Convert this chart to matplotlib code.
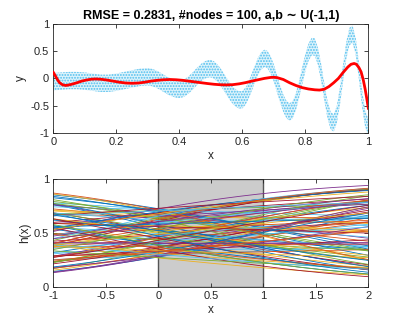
import numpy as np
import matplotlib.pyplot as plt
from matplotlib.patches import Rectangle

plt.rcParams['font.family'] = ['Liberation Sans', 'DejaVu Sans']
plt.rcParams['hatch.linewidth'] = 0.9

# --- top panel: noisy target (band of dots) and the network fit ---
band_x = np.concatenate([np.arange(0, 0.276, 0.025), np.arange(0.30, 1.001, 0.01)])
band_center = [
    -0.06, -0.05, -0.04, -0.04, -0.05, -0.07, -0.09, -0.09, -0.07, -0.04, -0.01, 0.02,
    0.03, 0.021, 0.002, -0.023, -0.055, -0.090, -0.125, -0.155, -0.179, -0.195,
    -0.20, -0.19, -0.162, -0.118, -0.061, -0.001, 0.058, 0.112, 0.152, 0.175,
    0.18, 0.155, 0.105, 0.032, -0.055, -0.148, -0.235, -0.313, -0.367, -0.396,
    -0.392, -0.330, -0.215, -0.069, 0.085, 0.226, 0.324, 0.369, 0.345, 0.246,
    0.098, -0.095, -0.288, -0.457, -0.573, -0.619, -0.575, -0.431, -0.211, 0.042,
    0.289, 0.481, 0.586, 0.578, 0.41, 0.114, -0.240, -0.562, -0.773, -0.825,
    -0.664, -0.320, 0.108, 0.515, 0.772, 0.816, 0.588, 0.147, -0.364, -0.749,
    -0.90,
]
noise_halfwidth = 0.16

fit_x = [0.0, 0.005, 0.01, 0.015, 0.02, 0.03, 0.04, 0.05, 0.06, 0.075,
         0.09, 0.105, 0.12, 0.135, 0.15, 0.17, 0.19, 0.21, 0.23, 0.25,
         0.27, 0.29, 0.31, 0.33, 0.35, 0.37, 0.39, 0.41, 0.43, 0.45,
         0.47, 0.49, 0.51, 0.53, 0.55, 0.57, 0.59, 0.61, 0.63, 0.65,
         0.67, 0.69, 0.70, 0.71, 0.73, 0.75, 0.77, 0.79, 0.81, 0.83,
         0.845, 0.86, 0.875, 0.89, 0.905, 0.92, 0.935, 0.945, 0.955, 0.962,
         0.97, 0.977, 0.984, 0.99, 0.995, 1.0]
fit_y = [0.11, 0.06, 0.01, -0.04, -0.08, -0.12, -0.13, -0.12, -0.105, -0.08,
         -0.05, -0.03, -0.015, -0.01, -0.015, -0.03, -0.05, -0.07, -0.085, -0.09,
         -0.085, -0.07, -0.05, -0.035, -0.025, -0.02, -0.025, -0.035, -0.05, -0.065,
         -0.08, -0.095, -0.108, -0.117, -0.12, -0.115, -0.10, -0.078, -0.05, -0.025,
         0.0, 0.018, 0.02, 0.015, -0.02, -0.08, -0.13, -0.17, -0.195, -0.21,
         -0.215, -0.20, -0.15, -0.08, 0.0, 0.11, 0.21, 0.26, 0.275, 0.26,
         0.20, 0.12, -0.03, -0.20, -0.37, -0.55]

title_text = 'RMSE = 0.2831, #nodes = 100, a,b \u223c U(-1,1)'

# --- bottom panel: hidden-node sigmoids h(x) = 1/(1+exp(-(a*x+b))) ---
a_vals = [0.63, -0.42, 0.91, -0.87, 0.15, 0.38, -0.71, 0.82, -0.05, -0.56,
          0.47, 0.99, -0.33, 0.24, -0.94, 0.71, -0.18, 0.56, -0.62, 0.07,
          0.88, -0.79, 0.31, -0.27, 0.95, -0.49, 0.12, 0.67, -0.84, 0.43,
          -0.11, 0.77, -0.66, 0.19, 0.93, -0.38, 0.52, -0.97, 0.02, 0.84,
          -0.24, 0.36, -0.75, 0.61, -0.53, 0.28, 0.97, -0.14, 0.73, -0.89,
          0.09, 0.49, -0.45, 0.86, -0.31, 0.22, -0.68, 0.79, -0.08, 0.58,
          -0.92, 0.34, 0.69, -0.59, 0.17, -0.36, 0.90, -0.21, 0.45, -0.81,
          0.65, 0.04, -0.47, 0.96, -0.64, 0.27, -0.12, 0.75, -0.99, 0.41,
          0.54, -0.29, 0.85, -0.73, 0.11, -0.51, 0.62, -0.02, 0.80, -0.39,
          0.33, -0.86, 0.92, -0.16, 0.50, -0.77, 0.21, 0.70, -0.60, 0.39]
b_vals = [-0.12, 0.54, -0.77, 0.31, 0.89, -0.43, 0.08, -0.95, 0.66, -0.29,
          0.41, -0.58, 0.93, -0.06, 0.22, -0.84, 0.72, -0.35, 0.15, -0.67,
          0.49, 0.97, -0.21, 0.60, -0.91, 0.03, 0.37, -0.52, 0.81, -0.74,
          0.26, -0.14, 0.68, -0.88, 0.44, 0.11, -0.63, 0.85, -0.39, 0.57,
          -0.02, 0.76, -0.47, 0.19, -0.99, 0.63, -0.26, 0.92, -0.56, 0.33,
          -0.81, 0.05, 0.71, -0.33, 0.47, -0.69, 0.88, -0.17, 0.28, -0.92,
          0.52, -0.09, 0.79, -0.44, 0.14, -0.78, 0.96, -0.24, 0.38, -0.61,
          0.83, -0.49, 0.07, -0.86, 0.59, -0.31, 0.24, -0.72, 0.91, -0.04,
          0.43, -0.97, 0.65, -0.19, 0.34, -0.55, 0.75, -0.37, 0.17, -0.83,
          0.99, -0.11, 0.53, -0.66, 0.29, -0.45, 0.87, -0.27, 0.09, -0.70]

matlab_colors = ['#0072BD', '#D95319', '#EDB120', '#7E2F8E',
                 '#77AC30', '#4DBEEE', '#A2142F']


def matlab_look(ax):
    ax.tick_params(direction='in', top=True, right=True, length=3,
                   width=0.6, labelsize=8, colors='#262626', pad=3)
    for s in ax.spines.values():
        s.set_color('#262626')
        s.set_linewidth(0.6)


fig = plt.figure(figsize=(4.07, 3.26), dpi=100)
ax1 = fig.add_axes([0.131, 0.593, 0.774, 0.333])
ax2 = fig.add_axes([0.131, 0.119, 0.774, 0.332])

lo = np.array(band_center) - noise_halfwidth
hi = np.array(band_center) + noise_halfwidth
ax1.fill_between(band_x, lo, hi, facecolor='#4DBEEE', alpha=0.18, linewidth=0)
ax1.fill_between(band_x, lo, hi, facecolor='none', edgecolor='#4DBEEE',
                 hatch='......', linewidth=0)
ax1.plot(fit_x, fit_y, color='red', lw=2, zorder=3)
ax1.set_xlim(0, 1)
ax1.set_ylim(-1, 1)
ax1.set_xticks([0, 0.2, 0.4, 0.6, 0.8, 1])
ax1.set_xticklabels(['0', '0.2', '0.4', '0.6', '0.8', '1'])
ax1.set_yticks([-1, -0.5, 0, 0.5, 1])
ax1.set_yticklabels(['-1', '-0.5', '0', '0.5', '1'])
ax1.set_xlabel('x', fontsize=8.5, color='#262626', labelpad=2)
ax1.set_ylabel('y', fontsize=8.5, color='#262626', labelpad=2)
ax1.set_title(title_text, fontsize=9, fontweight='bold', pad=4)
matlab_look(ax1)

ax2.add_patch(Rectangle((0, 0), 1, 1, facecolor='#CCCCCC',
                        edgecolor='#555555', lw=1.0, zorder=0.5))
xs = np.linspace(-1, 2, 200)
for i, (a, b) in enumerate(zip(a_vals, b_vals)):
    h = 1 / (1 + np.exp(-(a * xs + b)))
    ax2.plot(xs, h, color=matlab_colors[i % 7], lw=0.6)
ax2.set_xlim(-1, 2)
ax2.set_ylim(0, 1)
ax2.set_xticks([-1, -0.5, 0, 0.5, 1, 1.5, 2])
ax2.set_xticklabels(['-1', '-0.5', '0', '0.5', '1', '1.5', '2'])
ax2.set_yticks([0, 0.5, 1])
ax2.set_yticklabels(['0', '0.5', '1'])
ax2.set_xlabel('x', fontsize=8.5, color='#262626', labelpad=2)
ax2.set_ylabel('h(x)', fontsize=8.5, color='#262626', labelpad=2)
matlab_look(ax2)

fig.savefig('out.png', dpi=100)
